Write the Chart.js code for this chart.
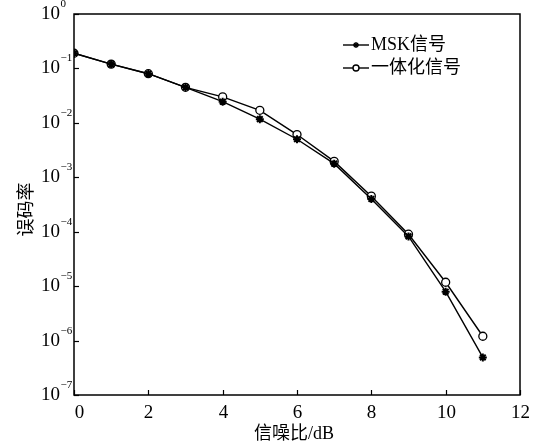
<!DOCTYPE html>
<html>
<head>
<meta charset="utf-8">
<script src="https://cdn.jsdelivr.net/npm/chart.js@4"></script>
<style>
  html, body { margin: 0; padding: 0; background: #fff; }
  canvas { display: block; }
</style>
</head>
<body>
<canvas id="ber" width="543" height="444"></canvas>
<script>
// ===== DATA =====
const snr = [0, 1, 2, 3, 4, 5, 6, 7, 8, 9, 10, 11];
const mskBer = [0.19, 0.12, 0.08, 0.045, 0.0245, 0.0117, 0.005, 0.00178, 0.0004, 0.000082, 0.0000079, 0.00000049];
const jointBer = [0.19, 0.12, 0.08, 0.045, 0.030, 0.017, 0.0061, 0.00196, 0.00045, 0.00009, 0.0000118, 0.0000012];
const xTicks = [0, 2, 4, 6, 8, 10, 12];
const yTickExps = [0, -1, -2, -3, -4, -5, -6, -7];
const seriesNames = ['MSK信号', '一体化信号'];

const LATIN = '"Liberation Serif", "Noto Sans CJK SC", serif';

// ticks, labels, frame and legend drawn by hand (inward ticks, 10^n labels)
const framePlugin = {
  id: 'frame',
  afterDraw(chart) {
    const { ctx, chartArea: a, scales } = chart;
    const xs = scales.x, ys = scales.y;
    ctx.save();
    ctx.strokeStyle = '#000';
    ctx.fillStyle = '#000';
    ctx.lineWidth = 1.5;
    ctx.strokeRect(a.left, a.top, a.right - a.left, a.bottom - a.top);

    ctx.lineWidth = 1.2;
    // y ticks
    yTickExps.forEach(e => {
      const py = Math.round(ys.getPixelForValue(Math.pow(10, e))) + 0.5;
      ctx.beginPath();
      ctx.moveTo(a.left, py);
      ctx.lineTo(a.left + 5, py);
      ctx.stroke();
      ctx.font = '19px ' + LATIN;
      ctx.textAlign = 'right';
      ctx.textBaseline = 'middle';
      ctx.fillText('10', 60, py);
      ctx.font = '11px ' + LATIN;
      ctx.textAlign = 'left';
      ctx.fillText(e === 0 ? '0' : '\u2212' + Math.abs(e), 60.5, py - 10);
    });
    // x ticks
    xTicks.forEach(v => {
      const px = Math.round(xs.getPixelForValue(v)) + 0.5;
      ctx.beginPath();
      ctx.moveTo(px, a.bottom);
      ctx.lineTo(px, a.bottom - 5);
      ctx.stroke();
      ctx.font = '19px ' + LATIN;
      ctx.textAlign = 'center';
      ctx.textBaseline = 'middle';
      ctx.fillText(String(v), px + (v === 0 ? 5 : 0), a.bottom + 18);
    });

    // axis titles
    ctx.font = '18px ' + LATIN;
    ctx.textAlign = 'center';
    ctx.textBaseline = 'middle';
    ctx.fillText('信噪比/dB', (a.left + a.right) / 2 - 3, 434);
    ctx.save();
    ctx.translate(27, (a.top + a.bottom) / 2 + 5);
    ctx.rotate(-Math.PI / 2);
    ctx.fillText('误码率', 0, 0);
    ctx.restore();

    // legend
    chart.data.datasets.forEach((ds, i) => {
      const ly = 45 + i * 23;
      ctx.lineWidth = ds.borderWidth;
      ctx.beginPath();
      ctx.moveTo(343, ly);
      ctx.lineTo(369, ly);
      ctx.stroke();
      ctx.fillStyle = ds.pointBackgroundColor;
      Chart.helpers.drawPoint(ctx, {
        pointStyle: ds.pointStyle,
        radius: 3,
        borderWidth: ds.pointBorderWidth,
        rotation: 0
      }, 356, ly);
      ctx.fillStyle = '#000';
      ctx.font = '18px ' + LATIN;
      ctx.textAlign = 'left';
      ctx.textBaseline = 'middle';
      ctx.fillText(ds.label, 371, ly);
    });
    ctx.restore();
  }
};

new Chart(document.getElementById('ber'), {
  type: 'line',
  data: {
    datasets: [
      {
        label: seriesNames[0],
        data: snr.map((x, i) => ({ x, y: mskBer[i] })),
        borderColor: '#000',
        borderWidth: 1.4,
        pointStyle: 'star',
        pointRadius: 4,
        pointBorderWidth: 2,
        pointBorderColor: '#000',
        pointBackgroundColor: '#000',
        tension: 0
      },
      {
        label: seriesNames[1],
        data: snr.map((x, i) => ({ x, y: jointBer[i] })),
        borderColor: '#000',
        borderWidth: 1.4,
        pointStyle: 'circle',
        pointRadius: 4,
        pointBorderWidth: 1.3,
        pointBorderColor: '#000',
        pointBackgroundColor: '#fff',
        tension: 0
      }
    ]
  },
  options: {
    responsive: false,
    devicePixelRatio: 1,
    animation: false,
    layout: { padding: { top: 14, right: 23, left: 0, bottom: 0 } },
    plugins: { legend: { display: false }, tooltip: { enabled: false } },
    scales: {
      x: {
        type: 'linear',
        min: 0,
        max: 12,
        grid: { display: false },
        border: { display: false },
        ticks: { display: false },
        afterFit: s => { s.height = 49; }
      },
      y: {
        type: 'logarithmic',
        min: 1e-7,
        max: 1,
        grid: { display: false },
        border: { display: false },
        ticks: { display: false },
        afterFit: s => { s.width = 74; }
      }
    }
  },
  plugins: [framePlugin]
});
</script>
</body>
</html>
